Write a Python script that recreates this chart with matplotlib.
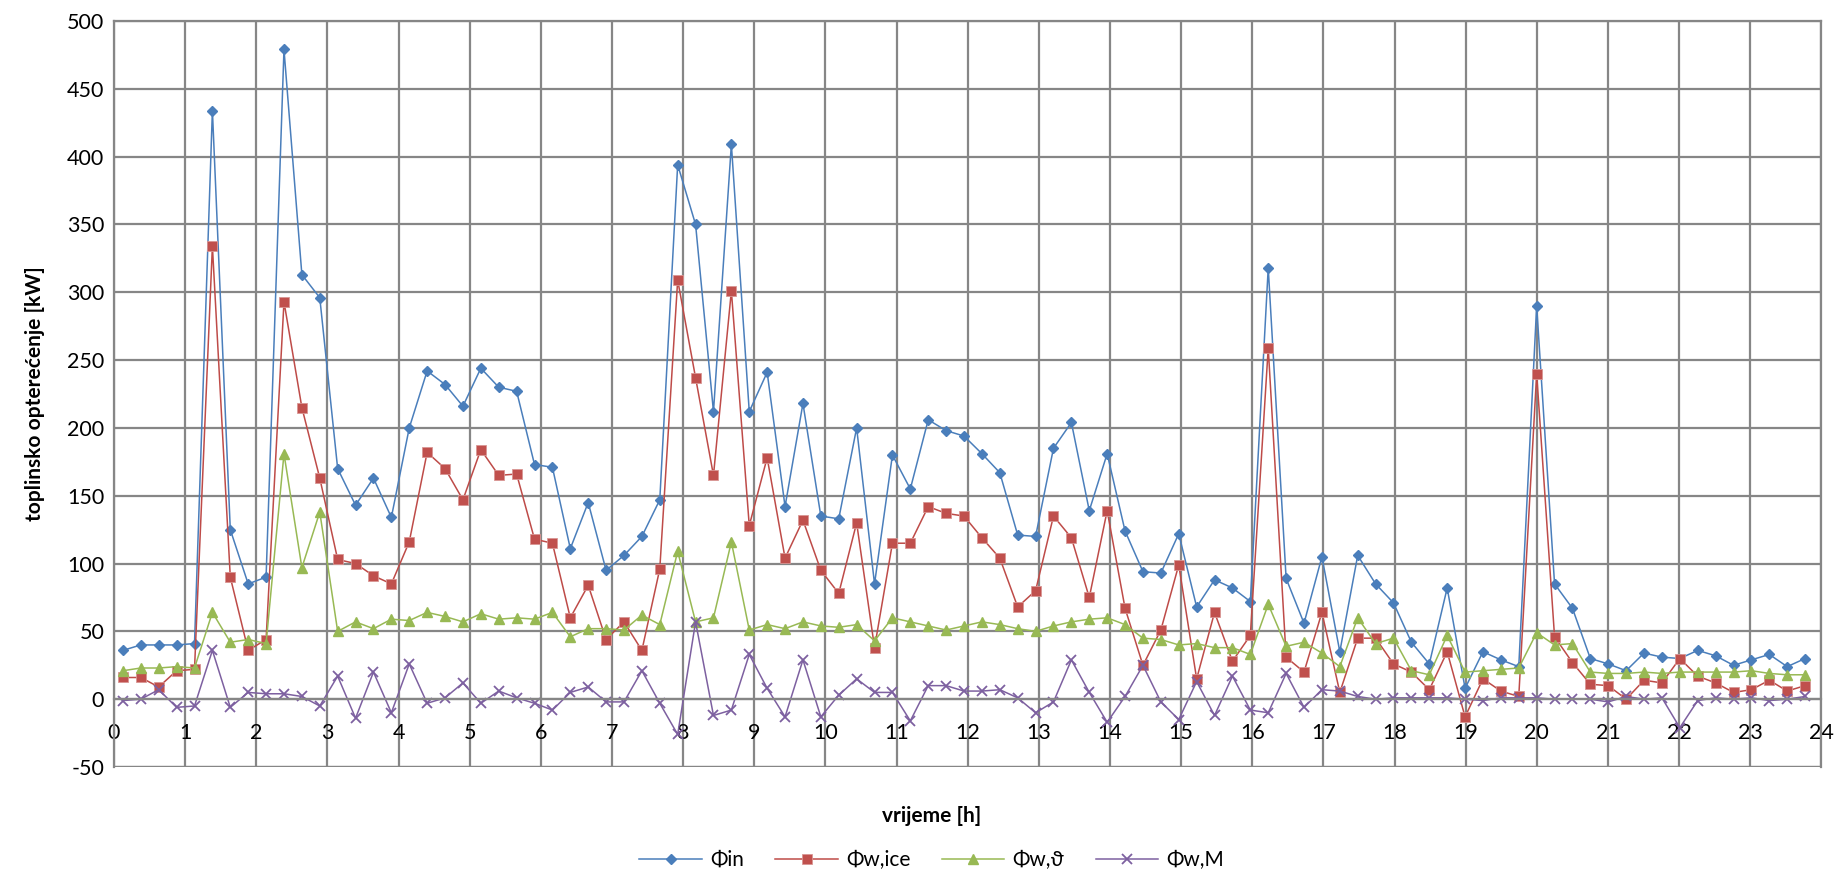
import numpy as np
import matplotlib
matplotlib.use("Agg")
import matplotlib.pyplot as plt

plt.rcParams['font.family'] = ['Lato', 'DejaVu Sans']
plt.rcParams['axes.unicode_minus'] = False

# time of each sample [h] (regular sampling, ~15 min)
n_samples = 95
t_first = 0.126
t_last = 23.77

phi_in = [36, 40, 40, 40, 41, 434, 125, 85, 90, 479,
          313, 296, 170, 143, 163, 134, 200, 242, 232, 216,
          244, 230, 227, 173, 171, 111, 145, 95, 106, 120,
          147, 394, 350, 212, 409, 212, 241, 142, 218, 135,
          133, 200, 85, 180, 155, 206, 198, 194, 181, 167,
          121, 120, 185, 204, 139, 181, 124, 94, 93, 122,
          68, 88, 82, 72, 318, 89, 56, 105, 35, 106,
          85, 71, 42, 26, 82, 8, 35, 29, 24, 290,
          85, 67, 30, 26, 21, 34, 31, 30, 36, 32,
          25, 29, 33, 24, 30]

phi_ice = [16, 16, 9, 21, 22, 334, 90, 36, 44, 293,
           215, 163, 103, 100, 91, 85, 116, 182, 170, 147,
           184, 165, 166, 118, 115, 60, 84, 44, 57, 36,
           96, 309, 237, 165, 301, 128, 178, 104, 132, 95,
           78, 130, 38, 115, 115, 142, 137, 135, 119, 104,
           68, 80, 135, 119, 75, 139, 67, 25, 51, 99,
           15, 64, 28, 47, 259, 31, 20, 64, 5, 45,
           45, 26, 20, 7, 35, -13, 15, 6, 2, 240,
           46, 27, 11, 10, 0, 14, 12, 30, 17, 12,
           5, 7, 14, 6, 10]

phi_theta = [21, 23, 23, 24, 23, 64, 42, 44, 41, 181,
             97, 138, 50, 57, 52, 59, 58, 64, 61, 57,
             63, 59, 60, 59, 64, 46, 52, 52, 51, 62,
             55, 109, 57, 60, 116, 51, 55, 52, 57, 54,
             53, 55, 43, 60, 57, 54, 51, 54, 57, 55,
             52, 50, 54, 57, 59, 60, 55, 45, 44, 40,
             41, 38, 38, 33, 70, 39, 42, 34, 24, 60,
             41, 45, 21, 18, 47, 20, 21, 22, 23, 49,
             40, 41, 20, 19, 19, 20, 19, 20, 20, 20,
             20, 21, 19, 18, 18]

phi_m = [-1, 0, 7, -6, -5, 36, -6, 5, 4, 4,
         2, -5, 17, -14, 20, -10, 26, -3, 1, 12,
         -3, 6, 1, -3, -8, 5, 9, -2, -2, 21,
         -3, -26, 57, -12, -8, 33, 8, -13, 29, -13,
         3, 15, 5, 5, -16, 10, 10, 6, 6, 7,
         1, -10, -2, 29, 5, -17, 2, 25, -2, -15,
         13, -12, 17, -8, -10, 19, -6, 7, 6, 2,
         0, 1, 1, 1, 1, 0, -1, 1, 1, 1,
         0, 0, 0, -2, 2, 0, 1, -21, -1, 1,
         0, 1, -1, 0, 2]

labels = ['Φin', 'Φw,ice', 'Φw,ϑ', 'Φw,M']
x_ticks = list(range(0, 25))
y_ticks = list(range(-50, 501, 50))

t = np.linspace(t_first, t_last, n_samples)

fig = plt.figure(figsize=(18.38, 8.74), dpi=100)
ax = fig.add_axes([0.062, 0.1224, 0.929, 0.8536])

grid_col = '#868686'
ax.plot(t, phi_in, color='#4A7EBB', lw=1.1, marker='D', ms=5.5, label=labels[0])
ax.plot(t, phi_ice, color='#BE4B48', lw=1.1, marker='s', ms=7, label=labels[1],
        markerfacecolor='#C0504D', markeredgecolor='#D99694', markeredgewidth=0.6)
ax.plot(t, phi_theta, color='#98B954', lw=1.1, marker='^', ms=7.5, label=labels[2])
ax.plot(t, phi_m, color='#7D60A0', lw=1.1, marker='x', ms=6.5, mew=1.3, label=labels[3])

ax.set_xlim(0, 24)
ax.set_ylim(-50, 500)
ax.set_xticks(x_ticks)
ax.set_yticks(y_ticks)
ax.tick_params(axis='both', labelsize=15.5, length=0, colors='black')
ax.tick_params(axis='x', pad=17)
ax.tick_params(axis='y', pad=7)
ax.grid(True, color=grid_col, lw=1.6)
ax.set_axisbelow(True)

for s in ['top', 'right', 'left']:
    ax.spines[s].set_color(grid_col)
    ax.spines[s].set_linewidth(1.6)
ax.spines['bottom'].set_position(('data', 0))
ax.spines['bottom'].set_color(grid_col)
ax.spines['bottom'].set_linewidth(1.6)
ax.axhline(-50, color=grid_col, lw=1.6, zorder=0.5)

ax.set_ylabel('toplinsko opterećenje [kW]', fontsize=15, fontweight='bold', labelpad=16)
fig.text(0.507, 0.066, 'vrijeme [h]', ha='center', va='center', fontsize=15, fontweight='bold')

fig.legend(loc='center', bbox_to_anchor=(0.507, 0.016), ncol=4, frameon=False,
           fontsize=15, handlelength=3.0, columnspacing=1.5, handletextpad=0.4)

fig.savefig('out.png', dpi=100)
